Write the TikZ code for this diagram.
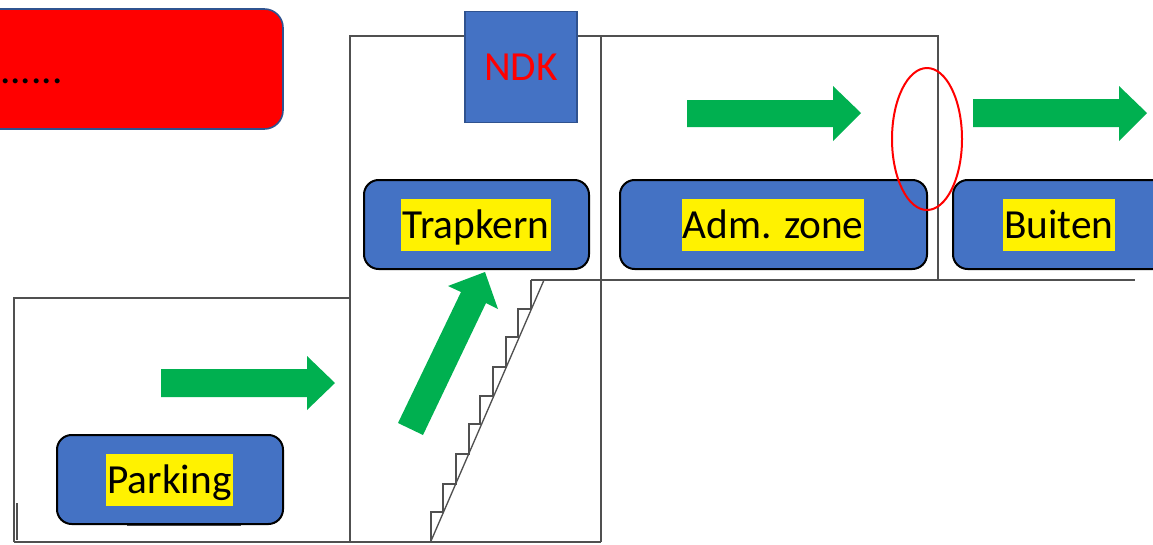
\documentclass[tikz,border=0pt]{standalone}
\usepackage{fontspec}
\setmainfont{Carlito}
\definecolor{boxblue}{HTML}{4472C4}
\definecolor{edgeblue}{HTML}{2F528F}
\definecolor{arrowgreen}{HTML}{00B050}
\definecolor{wallgray}{HTML}{505050}
\tikzset{
  px/.style={x=0.75pt,y=-0.75pt},
  wall/.style={draw=wallgray,line width=1.1pt},
  heavy wall/.style={draw=wallgray,line width=1.6pt},
  thin wall/.style={draw=wallgray,line width=1pt},
  zonebox/.style={draw=black,line width=1.5pt,fill=boxblue,rounded corners=11pt,minimum height=66.75pt,inner sep=0pt},
  hilite/.style={fill=yellow,inner sep=0pt,minimum height=39pt,font=\fontsize{31}{36}\selectfont,text=black,text height=24.25pt,text depth=3.75pt},
  flow/.style={fill=arrowgreen,draw=none},
}
\begin{document}
\begin{tikzpicture}[px]
\clip (0,0) rectangle (1153,544);
% walls
\draw[wall] (14,542) -- (14,298) -- (350,298);
\draw[wall] (601,542) -- (601,36);
\draw[heavy wall] (14,542) -- (601,542);
\draw[wall] (350,542) -- (350,36) -- (938,36) -- (938,280);
\draw[heavy wall] (531,280) -- (1135,280);
\draw[thin wall] (17,503) -- (17,540);
\draw[draw=wallgray,line width=1.5pt] (127,525) -- (241,525);
% stairs
\draw[thin wall] (431,541) -- (544,280);
\draw[thin wall] (431,541) -- (431,512) -- (443,512) -- (443,484) -- (456,484) -- (456,454) -- (469,454) -- (469,424) -- (480,424) -- (480,396) -- (493,396) -- (493,367) -- (506,367) -- (506,337) -- (518,337) -- (518,309) -- (531,309) -- (531,280);
% arrows
\fill[flow] (161,369) -- (307,369) -- (307,356) -- (335,383) -- (307,410) -- (307,397) -- (161,397) -- cycle;
\fill[flow] (687,100) -- (833,100) -- (833,86) -- (861,113) -- (833,141) -- (833,127) -- (687,127) -- cycle;
\fill[flow] (973,99) -- (1119,99) -- (1119,86) -- (1147,113) -- (1119,141) -- (1119,127) -- (973,127) -- cycle;
\fill[flow] (398,423) -- (461,292) -- (448,286) -- (485,272) -- (498,309) -- (486,303) -- (423,435) -- cycle;
% red box
\node[draw=edgeblue,line width=1.2pt,fill=red,rounded corners=14pt,minimum width=240pt,minimum height=90pt,inner sep=0pt] (alert) at (123,69) {};
\node[anchor=base east,font=\fontsize{31}{36}\selectfont,text=black,inner sep=0pt] (alerttext) at (63,83) {......};
% NDK
\node[draw=edgeblue,line width=1.2pt,fill=boxblue,minimum width=84pt,minimum height=83.25pt,inner sep=0pt,text=red,font=\fontsize{31}{36}\selectfont] (ndk) at (521,67) {NDK};
% zones
\node[zonebox,minimum width=169.5pt] (parking) at (170,479.5) {};
\node[hilite,minimum width=95.25pt] (parkinglabel) at (169.5,480) {Parking};
\node[zonebox,minimum width=168.75pt] (trapkern) at (476.5,224.5) {};
\node[hilite,minimum width=112.5pt] (trapkernlabel) at (476,224.5) {Trapkern};
\node[zonebox,minimum width=230.25pt] (adm) at (773.5,224.5) {};
\node[hilite,minimum width=135pt] (admlabel) at (773,224.5) {Adm. zone};
\node[zonebox,minimum width=180pt] (buiten) at (1073,224.5) {};
\node[hilite,minimum width=84pt] (buitenlabel) at (1059,224.5) {Buiten};
% red ellipse
\draw[red,line width=1.5pt] (927,139) ellipse [x radius=35,y radius=71];
\end{tikzpicture}
\end{document}
